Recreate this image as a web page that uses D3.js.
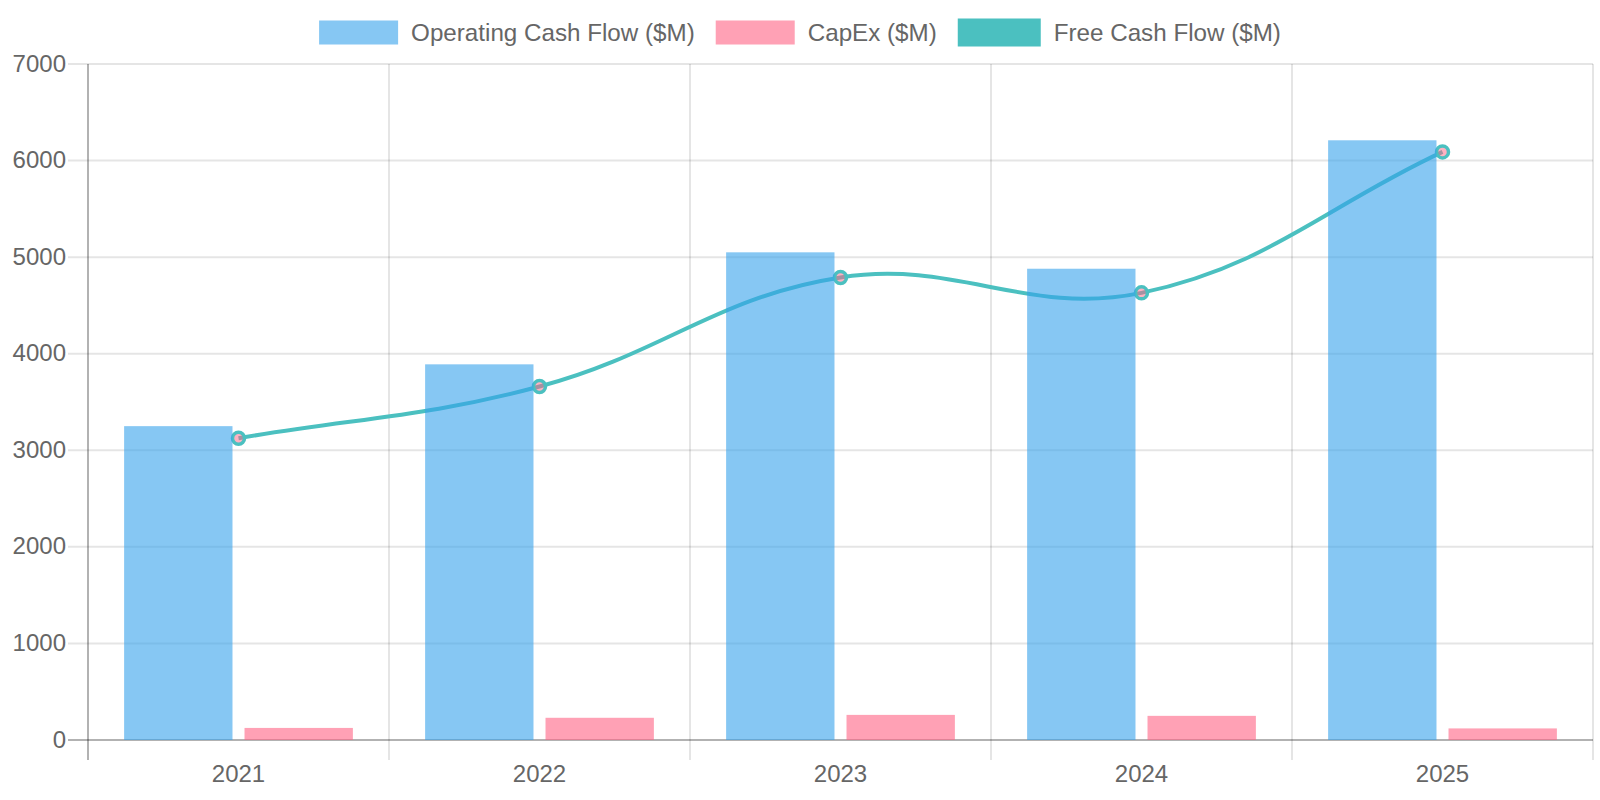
<!DOCTYPE html>
<html>
<head>
<meta charset="utf-8">
<script src="https://cdn.jsdelivr.net/npm/d3@7"></script>
<style>
  html, body { margin: 0; padding: 0; background: #fff; }
  svg { display: block; font-family: "Liberation Sans", Arial, Helvetica, sans-serif; }
</style>
</head>
<body>
<svg id="chart" width="1600" height="800"></svg>
<script>
// ---- data ----
const years = ["2021", "2022", "2023", "2024", "2025"];
const operatingCashFlow = [3250, 3890, 5050, 4880, 6210];
const capex = [125, 230, 260, 250, 120];
const freeCashFlow = [3125, 3660, 4790, 4630, 6090];
const yTicks = [0, 1000, 2000, 3000, 4000, 5000, 6000, 7000];
const seriesNames = ["Operating Cash Flow ($M)", "CapEx ($M)", "Free Cash Flow ($M)"];

(function () {
// ---- layout ----
const plotLeft = 88, plotRight = 1593, plotTop = 64, plotBottom = 740;
const tickLen = 20;
const tickFont = 24;
const legendFont = 24.2;
const svg = d3.select("#chart");

const x = d3.scaleBand().domain(years).range([plotLeft, plotRight]).paddingInner(0).paddingOuter(0);
const bw = x.bandwidth();
const x1 = d3.scaleBand().domain(["ocf", "capex"]).range([0.1 * bw, 0.9 * bw]).paddingInner(0.1).paddingOuter(0.05);
const y = d3.scaleLinear().domain([0, 7000]).range([plotBottom, plotTop]);

const gridColor = "rgba(0,0,0,0.1)";
const axisColor = "rgba(0,0,0,0.3)";
const textColor = "#666";

// ---- grid ----
const grid = svg.append("g");
grid.selectAll("line.h").data(yTicks).enter().append("line")
  .attr("x1", plotLeft - tickLen).attr("x2", plotRight)
  .attr("y1", d => y(d)).attr("y2", d => y(d))
  .attr("stroke", d => d === 0 ? axisColor : gridColor)
  .attr("stroke-width", 2);
const bounds = years.map(d => x(d)).concat([plotRight]);
grid.selectAll("line.v").data(bounds).enter().append("line")
  .attr("x1", d => d).attr("x2", d => d)
  .attr("y1", plotTop).attr("y2", plotBottom + tickLen)
  .attr("stroke", (d, i) => i === 0 ? axisColor : gridColor)
  .attr("stroke-width", 2);

// ---- axis labels ----
svg.append("g").selectAll("text").data(yTicks).enter().append("text")
  .attr("x", plotLeft - tickLen - 2).attr("y", d => y(d) - 1)
  .attr("text-anchor", "end").attr("dominant-baseline", "central")
  .attr("fill", textColor).attr("font-size", tickFont)
  .text(d => d);
svg.append("g").selectAll("text").data(years).enter().append("text")
  .attr("x", d => x(d) + bw / 2).attr("y", 773)
  .attr("text-anchor", "middle").attr("dominant-baseline", "central")
  .attr("fill", textColor).attr("font-size", tickFont)
  .text(d => d);

// ---- line (Chart.js style spline, tension 0.4) ----
const pts = years.map((d, i) => ({ x: x(d) + bw / 2, y: y(freeCashFlow[i]) }));
const tension = 0.4;
pts.forEach((p, i) => {
  const prev = pts[i - 1] || p, next = pts[i + 1] || p;
  const d01 = Math.hypot(p.x - prev.x, p.y - prev.y);
  const d12 = Math.hypot(next.x - p.x, next.y - p.y);
  let s01 = d01 / (d01 + d12), s12 = d12 / (d01 + d12);
  if (isNaN(s01)) s01 = 0; if (isNaN(s12)) s12 = 0;
  const fa = tension * s01, fb = tension * s12;
  p.cpPrev = { x: p.x - fa * (next.x - prev.x), y: p.y - fa * (next.y - prev.y) };
  p.cpNext = { x: p.x + fb * (next.x - prev.x), y: p.y + fb * (next.y - prev.y) };
});
const path = d3.path();
path.moveTo(pts[0].x, pts[0].y);
for (let i = 1; i < pts.length; i++) {
  const a = pts[i - 1], b = pts[i];
  path.bezierCurveTo(a.cpNext.x, a.cpNext.y, b.cpPrev.x, b.cpPrev.y, b.x, b.y);
}
svg.append("path").attr("d", path.toString())
  .attr("fill", "none").attr("stroke", "rgb(75,192,192)").attr("stroke-width", 4);
svg.append("g").selectAll("circle").data(pts).enter().append("circle")
  .attr("cx", d => d.x).attr("cy", d => d.y).attr("r", 6)
  .attr("fill", "rgba(255,99,132,0.5)")
  .attr("stroke", "rgb(75,192,192)").attr("stroke-width", 3.5);

// ---- bars ----
svg.append("g").selectAll("rect").data(years).enter().append("rect")
  .attr("x", d => x(d) + x1("capex")).attr("width", x1.bandwidth())
  .attr("y", (d, i) => y(capex[i])).attr("height", (d, i) => y(0) - y(capex[i]))
  .attr("fill", "rgba(255,99,132,0.6)");
svg.append("g").selectAll("rect").data(years).enter().append("rect")
  .attr("x", d => x(d) + x1("ocf")).attr("width", x1.bandwidth())
  .attr("y", (d, i) => y(operatingCashFlow[i])).attr("height", (d, i) => y(0) - y(operatingCashFlow[i]))
  .attr("fill", "rgba(54,162,235,0.6)");

// ---- legend ----
const legendColors = ["rgba(54,162,235,0.6)", "rgba(255,99,132,0.6)", "rgb(75,192,192)"];
const boxW = 79, boxH = 24, gap = 13, itemGap = 21;
const lg = svg.append("g");
const items = seriesNames.map((name, i) => {
  const t = lg.append("text").attr("font-size", legendFont).attr("fill", textColor)
    .attr("dominant-baseline", "central").text(name);
  return { name, t, w: t.node().getComputedTextLength(), i };
});
const totalW = d3.sum(items, d => boxW + gap + d.w) + itemGap * (items.length - 1) + 4;
let cx = 800 - totalW / 2;
items.forEach(it => {
  const extra = it.i === 2 ? 2 : 0;
  const r = lg.append("rect").attr("x", cx + extra).attr("y", 20.5).attr("width", boxW).attr("height", boxH)
    .attr("fill", legendColors[it.i]);
  if (it.i === 2) r.attr("stroke", "rgb(75,192,192)").attr("stroke-width", 4);
  it.t.attr("x", cx + boxW + gap + 2 * extra).attr("y", 32.5);
  cx += boxW + gap + it.w + itemGap + 2 * extra;
});
})();
</script>
</body>
</html>
